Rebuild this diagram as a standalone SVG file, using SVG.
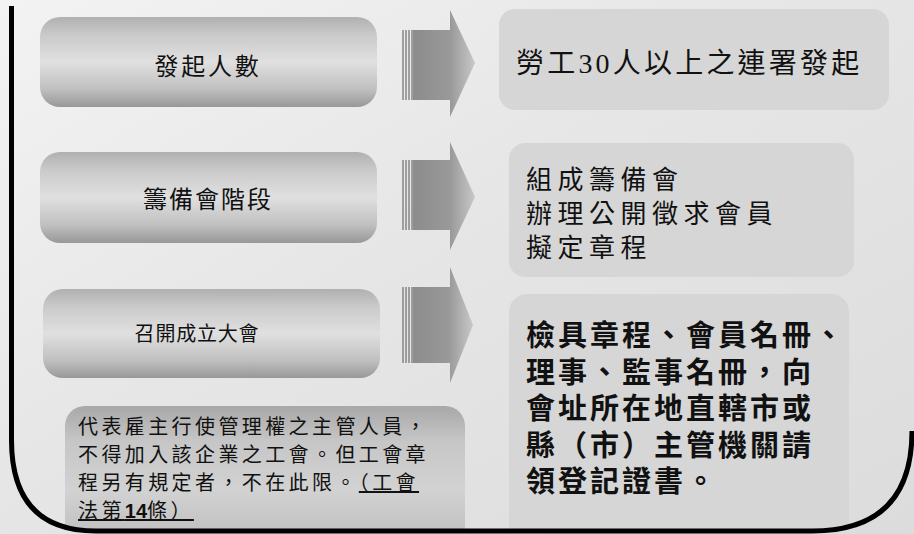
<svg xmlns="http://www.w3.org/2000/svg" width="914" height="534" viewBox="0 0 914 534">
<defs>
<linearGradient id="bg" x1="0" y1="0" x2="1" y2="1">
<stop offset="0" stop-color="#f3f3f3"/>
<stop offset="0.45" stop-color="#e6e6e6"/>
<stop offset="1" stop-color="#dcdcdc"/>
</linearGradient>
<linearGradient id="pill" x1="0" y1="0" x2="0" y2="1">
<stop offset="0" stop-color="#b0b0b0"/>
<stop offset="0.2" stop-color="#cacaca"/>
<stop offset="0.5" stop-color="#e0e0e0"/>
<stop offset="0.8" stop-color="#c0c0c0"/>
<stop offset="1" stop-color="#989898"/>
</linearGradient>
<linearGradient id="note" x1="0" y1="0" x2="0" y2="1">
<stop offset="0" stop-color="#a8a8a8"/>
<stop offset="0.25" stop-color="#c6c6c6"/>
<stop offset="0.6" stop-color="#d2d2d2"/>
<stop offset="1" stop-color="#bcbcbc"/>
</linearGradient>
<linearGradient id="arr" x1="0" y1="0" x2="1" y2="0">
<stop offset="0" stop-color="#8c8c8c"/>
<stop offset="0.6" stop-color="#999999"/>
<stop offset="1" stop-color="#c8c8c8"/>
</linearGradient>
<clipPath id="inside">
<path d="M11.5,0 V440 Q11.5,531 96,531 H812 Q912,531 912,431 V0 Z"/>
</clipPath>
<style>
.pill{fill:url(#pill)}
.rbox{fill:#d6d6d6}
.lt{font-family:"Liberation Serif","Noto Sans CJK TC",serif;fill:#111;text-anchor:middle}
.rt{font-family:"Liberation Serif","Noto Sans CJK TC",serif;fill:#111}
.arrow{fill:url(#arr)}
.stripe{stroke:#777;stroke-width:1.3}
.frame{fill:none;stroke:#000;stroke-width:5}
</style>
</defs>
<rect width="914" height="534" fill="url(#bg)"/>

<g id="node-fq">
<rect class="pill" x="40" y="17" width="337" height="90" rx="20"/>
<text class="lt" x="208" y="75" font-size="24" letter-spacing="2.7">發起人數</text>
</g>
<g id="node-cb">
<rect class="pill" x="40" y="152" width="337" height="91" rx="20"/>
<text class="lt" x="208" y="208" font-size="24" letter-spacing="2">籌備會階段</text>
</g>
<g id="node-zk">
<rect class="pill" x="43" y="289" width="337" height="89" rx="20"/>
<text class="lt" x="197" y="341" font-size="20" letter-spacing="0.8">召開成立大會</text>
</g>
<g id="node-note" clip-path="url(#inside)">
<rect x="65" y="406" width="400" height="140" rx="20" fill="url(#note)"/>
<text class="rt" font-size="20" letter-spacing="3.4">
<tspan x="78" y="434">代表雇主行使管理權之主管人員，</tspan>
<tspan x="78" y="462">不得加入該企業之工會。但工會章</tspan>
<tspan x="78" y="490">程另有規定者，不在此限。<tspan text-decoration="underline">（工會</tspan></tspan>
<tspan x="78" y="518" text-decoration="underline">法第<tspan font-family="Liberation Sans" font-weight="bold" letter-spacing="0">14</tspan>條）</tspan>
</text>
</g>

<g id="node-r1">
<rect class="rbox" x="499" y="9" width="390" height="101" rx="16" fill="#dadada"/>
<text class="rt" x="516" y="73" font-size="28" letter-spacing="3.2">勞工30人以上之連署發起</text>
</g>
<g id="node-r2">
<rect class="rbox" x="509" y="143" width="345" height="134" rx="16"/>
<text class="rt" font-size="26" letter-spacing="5.5">
<tspan x="526" y="189">組成籌備會</tspan>
<tspan x="526" y="223">辦理公開徵求會員</tspan>
<tspan x="526" y="257">擬定章程</tspan>
</text>
</g>
<g id="node-r3" clip-path="url(#inside)">
<rect class="rbox" x="509" y="294" width="340" height="250" rx="18" fill="#d0d0d0"/>
<text class="rt" font-size="29" font-weight="bold" letter-spacing="3">
<tspan x="526" y="346">檢具章程、會員名冊、</tspan>
<tspan x="526" y="383">理事、監事名冊，向</tspan>
<tspan x="526" y="419">會址所在地直轄市或</tspan>
<tspan x="526" y="456">縣（市）主管機關請</tspan>
<tspan x="526" y="492">領登記證書。</tspan>
</text>
</g>

<g id="connectors">
<g id="arrow1">
<path class="arrow" d="M413,30 H450 V10 L475,63 L450,117 V100 H413 Z"/>
<path class="stripe" d="M403,30 V100 M406,30 V100 M409,30 V100 M412,30 V100"/>
</g>
<g id="arrow2">
<path class="arrow" d="M413,160 H450 V142 L475,197 L450,250 V230 H413 Z"/>
<path class="stripe" d="M403,160 V230 M406,160 V230 M409,160 V230 M412,160 V230"/>
</g>
<g id="arrow3">
<path class="arrow" d="M413,287 H450 V267 L473,325 L450,383 V363 H413 Z"/>
<path class="stripe" d="M403,287 V363 M406,287 V363 M409,287 V363 M412,287 V363"/>
</g>
</g>

<path class="frame" d="M11.5,6 V440 Q11.5,531 96,531 H812 Q912,531 912,431"/>
</svg>
